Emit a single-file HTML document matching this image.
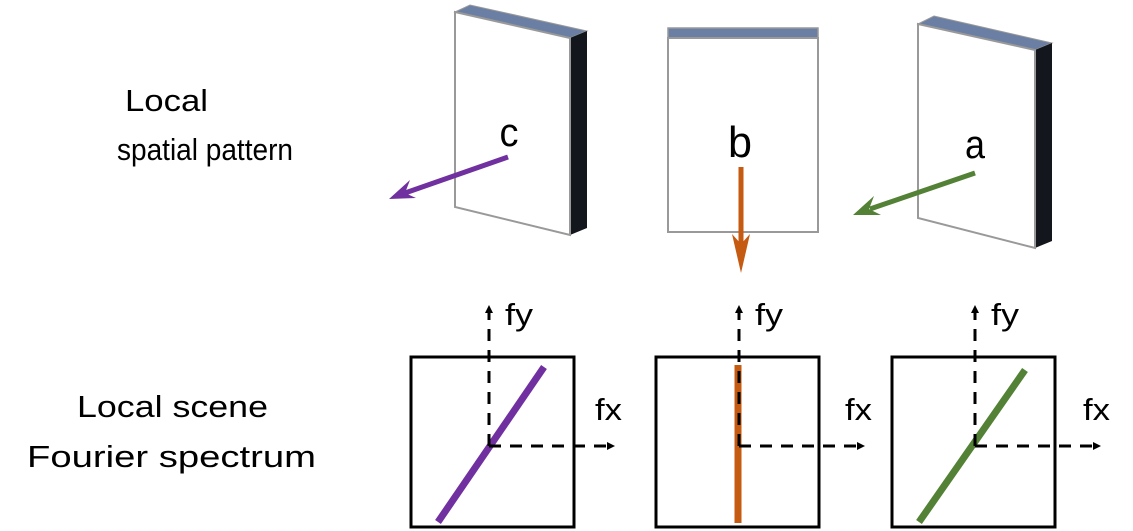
<!DOCTYPE html>
<html><head><meta charset="utf-8"><style>
html,body{margin:0;padding:0;background:#fff;}
svg{display:block;}
text{font-family:"Liberation Sans","DejaVu Sans",sans-serif;}
</style></head><body>
<svg width="1133" height="531" viewBox="0 0 1133 531" xmlns="http://www.w3.org/2000/svg">
<defs>
<marker id="ah" markerWidth="8" markerHeight="8" refX="7" refY="4" orient="auto" markerUnits="userSpaceOnUse"><path d="M0,0 L8,4 L0,8 z" fill="#000"/></marker>
</defs>
<!-- labels -->
<text x="125" y="111" font-size="31" textLength="83" lengthAdjust="spacingAndGlyphs">Local</text>
<text x="117" y="160" font-size="31" textLength="176" lengthAdjust="spacingAndGlyphs">spatial pattern</text>
<text x="77" y="417" font-size="31" textLength="191" lengthAdjust="spacingAndGlyphs">Local scene</text>
<text x="27" y="467" font-size="31" textLength="289" lengthAdjust="spacingAndGlyphs">Fourier spectrum</text>

<!-- panel c -->
<polygon points="455,12 470,5 587,31 570,38" fill="#6a7fa3" stroke="#999" stroke-width="1"/>
<polygon points="570,38 587,31 587,228 570,235" fill="#13161c"/>
<polygon points="455,12 570,38 570,235 455,207" fill="#fff" stroke="#999" stroke-width="2"/>
<text x="509" y="146" font-size="40" text-anchor="middle" textLength="19" lengthAdjust="spacingAndGlyphs">c</text>
<line x1="508" y1="157" x2="405" y2="193" stroke="#7030a0" stroke-width="5"/>
<polygon points="389,199 410,180 405,193 416,198" fill="#7030a0"/>

<!-- panel b -->
<rect x="668" y="28" width="150" height="10" fill="#6a7fa3" stroke="#999" stroke-width="1.5"/>
<rect x="668" y="38" width="150" height="194" fill="#fff" stroke="#999" stroke-width="2"/>
<text x="740" y="157" font-size="44" text-anchor="middle" textLength="24" lengthAdjust="spacingAndGlyphs">b</text>
<line x1="741" y1="167" x2="741" y2="250" stroke="#c55a11" stroke-width="5"/>
<polygon points="741,273 732,234 741,244 750,234" fill="#c55a11"/>

<!-- panel a -->
<polygon points="918,24 934,16 1052,43 1035,50" fill="#6a7fa3" stroke="#999" stroke-width="1"/>
<polygon points="1035,50 1052,43 1052,241 1035,248" fill="#13161c"/>
<polygon points="918,24 1035,50 1035,248 918,218" fill="#fff" stroke="#999" stroke-width="2"/>
<text x="975" y="158" font-size="40" text-anchor="middle" textLength="20" lengthAdjust="spacingAndGlyphs">a</text>
<line x1="975" y1="173" x2="870" y2="209" stroke="#538135" stroke-width="5"/>
<polygon points="853,215 874,196 869,209 881,215" fill="#538135"/>

<!-- bottom boxes -->
<g fill="none" stroke="#000" stroke-width="3">
<rect x="411" y="357" width="163" height="170"/>
<rect x="656" y="357" width="163" height="170"/>
<rect x="892" y="357" width="163" height="170"/>
</g>
<!-- spectra lines -->
<line x1="438" y1="522" x2="544" y2="367" stroke="#7030a0" stroke-width="7"/>
<line x1="738" y1="365" x2="738" y2="523" stroke="#c55a11" stroke-width="7"/>
<line x1="919" y1="522" x2="1025" y2="370" stroke="#538135" stroke-width="7"/>
<!-- axes -->
<g stroke="#000" stroke-width="3" stroke-dasharray="12,9" fill="none">
<path d="M489,446 L489,306" marker-end="url(#ah)"/>
<path d="M489,446 L614,446" marker-end="url(#ah)"/>
<path d="M739,446 L739,306" marker-end="url(#ah)"/>
<path d="M739,446 L864,446" marker-end="url(#ah)"/>
<path d="M975,446 L975,306" marker-end="url(#ah)"/>
<path d="M975,446 L1100,446" marker-end="url(#ah)"/>
</g>
<g font-size="31">
<text x="505" y="325" textLength="28" lengthAdjust="spacingAndGlyphs">fy</text><text x="595" y="420" textLength="27" lengthAdjust="spacingAndGlyphs">fx</text>
<text x="755" y="325" textLength="28" lengthAdjust="spacingAndGlyphs">fy</text><text x="845" y="420" textLength="27" lengthAdjust="spacingAndGlyphs">fx</text>
<text x="991" y="325" textLength="28" lengthAdjust="spacingAndGlyphs">fy</text><text x="1083" y="420" textLength="27" lengthAdjust="spacingAndGlyphs">fx</text>
</g>
</svg>
</body></html>
